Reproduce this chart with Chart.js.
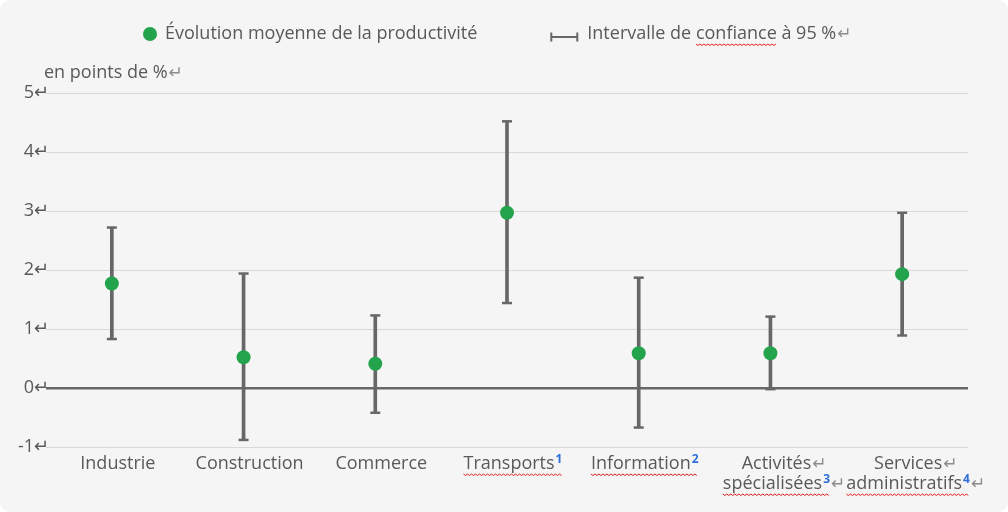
<!DOCTYPE html>
<html lang="fr">
<head>
<meta charset="utf-8">
<title>Évolution moyenne de la productivité</title>
<script src="https://cdn.jsdelivr.net/npm/chart.js@4.4.1/dist/chart.umd.min.js"></script>
<style>
  html, body { margin: 0; padding: 0; background: #ffffff; }
  .chart-box {
    width: 1008px;
    height: 512px;
    background: #f5f5f5;
    border-radius: 10px;
    overflow: hidden;
    position: relative;
  }
</style>
</head>
<body>
<div class="chart-box"><canvas id="productivity-chart"></canvas></div>
<script>
// data
const categories = [
  ['Industrie'],
  ['Construction'],
  ['Commerce'],
  ['Transports¹'],
  ['Information²'],
  ['Activités↵', 'spécialisées³↵'],
  ['Services↵', 'administratifs⁴↵'],
];
const meanValues = [1.77, 0.52, 0.41, 2.97, 0.59, 0.59, 1.93];
const lowValues = [0.83, -0.88, -0.42, 1.44, -0.67, -0.02, 0.89];
const highValues = [2.72, 1.94, 1.23, 4.52, 1.87, 1.21, 2.97];
const yTicks = [-1, 0, 1, 2, 3, 4, 5];
const legendLabels = ['Évolution moyenne de la productivité', 'Intervalle de confiance à 95 %↵'];
const axisTitle = 'en points de %↵';

const GREEN = '#23a34c';
const GREY = '#676767';
const TEXT = '#595959';
const MARK = '#8c8c8c';
const SUP = '#2f6fd8';
const FONT = '"Open Sans", sans-serif';

// words Word flagged with the red wavy line
const spellWords = ['Transports', 'Information', 'spécialisées', 'administratifs', 'confiance'];
const supMap = { '¹': '1', '²': '2', '³': '3', '⁴': '4' };

function splitRuns(text) {
  const runs = [];
  for (const ch of text) {
    const kind = ch === '↵' ? 'mark' : (supMap[ch] ? 'sup' : 'text');
    const last = runs[runs.length - 1];
    const c = kind === 'sup' ? supMap[ch] : ch;
    if (last && last.kind === kind) last.t += c;
    else runs.push({ t: c, kind });
  }
  return runs;
}

function runFont(kind) {
  if (kind === 'sup') return 'bold 12px ' + FONT;
  if (kind === 'mark') return '17px "DejaVu Sans", sans-serif';
  return '18px ' + FONT;
}

function squiggle(ctx, x0, x1, y) {
  ctx.save();
  ctx.strokeStyle = '#e01b1b';
  ctx.lineWidth = 1;
  ctx.beginPath();
  let up = true;
  ctx.moveTo(x0, y);
  for (let x = x0 + 2; x <= x1; x += 2) {
    ctx.lineTo(x, up ? y + 1.5 : y);
    up = !up;
  }
  ctx.stroke();
  ctx.restore();
}

// draws text with grey paragraph marks, blue superscripts and spell-check lines
function drawRich(ctx, text, x, y, align) {
  const runs = splitRuns(text);
  runs.forEach(r => {
    ctx.font = runFont(r.kind);
    r.w = ctx.measureText(r.t).width + (r.kind === 'sup' ? 1 : 0);
  });
  let coreW = 0;
  let total = 0;
  runs.forEach(r => {
    total += r.w;
    if (r.kind !== 'mark') coreW = total;
  });
  let cx = align === 'center' ? x - coreW / 2 : x;
  ctx.save();
  ctx.textBaseline = 'middle';
  ctx.textAlign = 'left';
  runs.forEach((r, i) => {
    ctx.font = runFont(r.kind);
    if (r.kind === 'sup') {
      ctx.fillStyle = SUP;
      ctx.fillText(r.t, cx + 1, y - 4);
    } else if (r.kind === 'mark') {
      ctx.fillStyle = MARK;
      ctx.fillText(r.t, cx + 1, y + 1);
    } else {
      ctx.fillStyle = TEXT;
      ctx.fillText(r.t, cx, y);
      spellWords.forEach(word => {
        const idx = r.t.indexOf(word);
        if (idx < 0) return;
        const xs = cx + ctx.measureText(r.t.slice(0, idx)).width;
        let xe = cx + ctx.measureText(r.t.slice(0, idx + word.length)).width;
        const next = runs[i + 1];
        if (idx + word.length === r.t.length && next && next.kind === 'sup') xe += next.w;
        squiggle(ctx, xs, xe, y + 10);
        ctx.font = runFont(r.kind);
      });
    }
    cx += r.w;
  });
  ctx.restore();
  return total;
}

const errorCaps = {
  id: 'errorCaps',
  afterDatasetDraw(chart, args) {
    if (args.index !== 1) return;
    const { ctx, scales: { y } } = chart;
    const meta = chart.getDatasetMeta(1);
    ctx.save();
    ctx.strokeStyle = GREY;
    ctx.lineWidth = 2.5;
    meta.data.forEach((bar, i) => {
      [lowValues[i], highValues[i]].forEach(v => {
        const py = y.getPixelForValue(v);
        ctx.beginPath();
        ctx.moveTo(bar.x - 5, py);
        ctx.lineTo(bar.x + 5, py);
        ctx.stroke();
      });
    });
    ctx.restore();
  }
};

const textLayer = {
  id: 'textLayer',
  afterDraw(chart) {
    const { ctx, chartArea, scales: { x } } = chart;

    // category labels under the plot (the original sits a little right of the marks)
    categories.forEach((lines, i) => {
      const px = x.getPixelForValue(i) + 6;
      lines.forEach((line, j) => {
        drawRich(ctx, line, px, chartArea.bottom + 17 + j * 20, 'center');
      });
    });

    // unit above the value axis
    drawRich(ctx, axisTitle, chartArea.left - 2, chartArea.top - 20, 'left');

    // legend
    const ly = 34;
    let lx = 143;
    ctx.save();
    ctx.fillStyle = GREEN;
    ctx.beginPath();
    ctx.arc(lx + 7, ly, 7, 0, Math.PI * 2);
    ctx.fill();
    ctx.restore();
    lx += 22;
    lx += drawRich(ctx, legendLabels[0], lx, ly, 'left');
    lx += 73;
    ctx.save();
    ctx.strokeStyle = GREY;
    ctx.lineWidth = 2;
    ctx.beginPath();
    ctx.moveTo(lx, ly + 3);
    ctx.lineTo(lx + 28, ly + 3);
    ctx.moveTo(lx + 1, ly - 1.5);
    ctx.lineTo(lx + 1, ly + 7.5);
    ctx.moveTo(lx + 27, ly - 1.5);
    ctx.lineTo(lx + 27, ly + 7.5);
    ctx.stroke();
    ctx.restore();
    lx += 37;
    drawRich(ctx, legendLabels[1], lx, ly, 'left');
  }
};

const ctx = document.getElementById('productivity-chart').getContext('2d');

new Chart(ctx, {
  type: 'bar',
  data: {
    labels: categories.map(l => l.join(' ')),
    datasets: [
      {
        type: 'line',
        label: legendLabels[0],
        data: meanValues,
        showLine: false,
        pointRadius: 7,
        pointHoverRadius: 7,
        pointBackgroundColor: GREEN,
        pointBorderWidth: 0,
        order: 0,
      },
      {
        type: 'bar',
        label: legendLabels[1],
        data: lowValues.map((v, i) => [v, highValues[i]]),
        backgroundColor: GREY,
        barThickness: 3,
        borderWidth: 0,
        order: 1,
      },
    ],
  },
  options: {
    responsive: true,
    maintainAspectRatio: false,
    animation: false,
    layout: {
      padding: { top: 93, right: 40, bottom: 65, left: 0 },
    },
    plugins: {
      legend: { display: false },
      tooltip: { enabled: false },
    },
    scales: {
      x: {
        grid: { display: false },
        border: { display: false },
        ticks: { display: false },
        afterFit(scale) { scale.height = 0; },
      },
      y: {
        min: yTicks[0],
        max: yTicks[yTicks.length - 1],
        afterFit(scale) { scale.width = 46; },
        afterBuildTicks(scale) { scale.ticks = yTicks.map(v => ({ value: v })); },
        border: { display: false },
        grid: {
          drawTicks: false,
          color: c => (c.tick && c.tick.value === 0 ? GREY : '#d9d9d9'),
          lineWidth: c => (c.tick && c.tick.value === 0 ? 2.5 : 1),
        },
        ticks: {
          padding: -3,
          color: TEXT,
          font: { family: 'Open Sans', size: 18 },
          callback: v => v + '↵',
        },
      },
    },
  },
  plugins: [errorCaps, textLayer],
});
</script>
</body>
</html>
